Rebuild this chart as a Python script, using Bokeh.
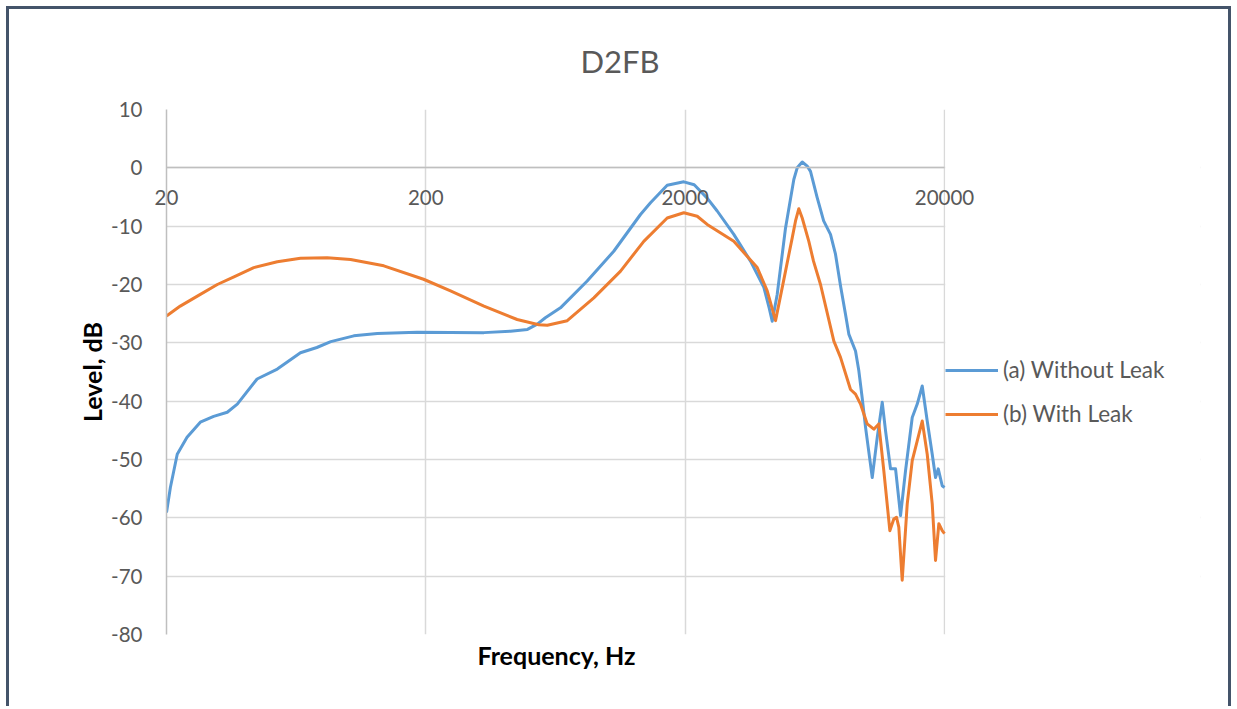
from bokeh.plotting import figure
from bokeh.models import (LogAxis, FixedTicker, Legend, LegendItem, Range1d, Title,
                          BoxAnnotation)
from bokeh.embed import file_html
from bokeh.resources import INLINE

# ---- data ----
freq_a = [20, 20.7, 22, 24, 27, 30.4, 34.3, 37.5, 44.7, 53.5, 65.7, 76, 86, 105.5, 130,
          185, 335, 424, 493, 538, 578, 661, 838, 1061, 1345, 1470, 1705, 1976, 2167,
          2432, 2658, 3080, 3573, 4022, 4216, 4332, 4528, 4876, 5248, 5408, 5654, 5912,
          6086, 6458, 6840, 7268, 7598, 7944, 8304, 8552, 9076, 9348, 9634, 9922, 10530,
          11008, 11508, 11850, 12388, 12950, 13538, 14152, 15018, 15700, 16412, 17156,
          17936, 18468, 18918, 19600, 20000]
level_a = [-59.1, -54.8, -49.1, -46.2, -43.6, -42.6, -41.9, -40.5, -36.2, -34.5, -31.7,
           -30.8, -29.8, -28.8, -28.4, -28.2, -28.25, -28.0, -27.7, -26.8, -25.7, -24.0,
           -19.4, -14.3, -8.0, -6.0, -3.0, -2.4, -2.9, -5.2, -7.4, -11.4, -16.0, -20.5,
           -24.0, -26.3, -21.7, -10.3, -2.0, 0.0, 1.0, 0.3, -0.6, -5.1, -9.1, -11.4, -14.8,
           -20.2, -25.1, -28.5, -31.4, -34.8, -39.5, -44.5, -53.1, -46.2, -40.2, -45.1,
           -51.6, -51.6, -59.6, -51.9, -42.8, -40.5, -37.4, -43.4, -49.1, -53.1, -51.6,
           -54.5, -54.8]

freq_b = [20, 22.6, 26.3, 31.4, 36.4, 43.4, 53.5, 65.7, 83.3, 102.5, 137.7, 196, 249,
          335, 450, 545, 588, 702, 889, 1127, 1385, 1705, 1976, 2226, 2432, 3080, 3792,
          4144, 4462, 4876, 5174, 5328, 5486, 5654, 5996, 6250, 6652, 7488, 7944, 8682,
          9076, 9490, 10070, 10678, 11160, 11668, 12310, 12750, 13062, 13330, 13738,
          14366, 15018, 15700, 16412, 17156, 17936, 18468, 19022, 19600, 20000]
level_b = [-25.4, -23.7, -22.0, -20.0, -18.7, -17.1, -16.1, -15.5, -15.4, -15.7, -16.8,
           -19.1, -21.1, -23.7, -26.0, -26.9, -27.0, -26.2, -22.3, -17.7, -12.6, -8.6,
           -7.7, -8.3, -9.7, -12.6, -17.1, -21.1, -26.2, -17.7, -12.0, -9.1, -7.0, -8.6,
           -12.6, -16.0, -20.0, -29.7, -32.5, -38.0, -38.8, -40.5, -43.9, -44.8, -43.9,
           -51.9, -62.2, -60.2, -59.9, -61.6, -70.7, -57.6, -50.2, -46.8, -43.4, -49.1,
           -57.6, -67.3, -61.0, -62.2, -62.7]

x_ticks = [20, 200, 2000, 20000]
y_ticks = [-80, -70, -60, -50, -40, -30, -20, -10, 0, 10]

title_text = "D2FB"
x_title = "Frequency, Hz"
y_title = "Level, dB"
label_a = "(a) Without Leak"
label_b = "(b) With Leak"

FONT = "Lato"
GREY_TXT = "#595959"
FRAME_C = "#44546A"
GRID_W = 1.5

# layout: the data area (20 Hz .. 20 kHz) is 778 px wide; the frame is widened to the
# right so that the legend (drawn inside the frame) is not clipped.
X_MIN, X_MAX = 20, 20000
DATA_W = 778
FRAME_W = 1034
DECADE_PX = DATA_W / 3
x_end = X_MAX * 10 ** ((FRAME_W - DATA_W) / DECADE_PX)

p = figure(width=1219, height=700, x_axis_type="log",
           x_range=Range1d(X_MIN, x_end), y_range=Range1d(-80, 10),
           output_backend="svg", toolbar_location=None,
           min_border_left=157, min_border_right=1219 - 157 - FRAME_W,
           min_border_top=99, min_border_bottom=75)
p.styles = {"margin-left": "9px", "margin-top": "9px",
            "box-shadow": f"-3px -3px 0 0 {FRAME_C}, 3px -3px 0 0 {FRAME_C}"}
p.outline_line_color = None
p.background_fill_color = "white"
p.border_fill_color = "white"

# title
p.title.text = title_text
p.title.align = "left"
p.title.offset = 414
p.title.standoff = 60
p.title.text_font = FONT
p.title.text_font_size = "31px"
p.title.text_font_style = "normal"
p.title.text_color = GREY_TXT

# grids
p.xgrid.ticker = FixedTicker(ticks=x_ticks)
p.ygrid.ticker = FixedTicker(ticks=y_ticks)
for g in (p.xgrid, p.ygrid):
    g.grid_line_color = "#D9D9D9"
    g.grid_line_width = GRID_W

# keep the horizontal grid lines inside the 20 Hz .. 20 kHz area
p.add_layout(BoxAnnotation(left=X_MAX * 10 ** (GRID_W / 2 / DECADE_PX),
                           fill_color="white", fill_alpha=1.0, line_color=None,
                           level="underlay"))

# main bottom axis: invisible
bx = p.below[0]
bx.ticker = FixedTicker(ticks=x_ticks)
bx.bounds = (X_MIN, X_MAX)
bx.major_label_text_font_size = "1px"
bx.major_label_text_color = None
bx.major_label_standoff = 0
bx.major_tick_line_color = None
bx.minor_tick_line_color = None
bx.major_tick_out = 0
bx.minor_tick_out = 0
bx.axis_line_color = None

# x axis title, centred under the data area
p.add_layout(Title(text=x_title, align="left", offset=311, vertical_align="top",
                   standoff=10, text_font=FONT, text_font_size="25px",
                   text_font_style="bold", text_color="black"), "below")

# y axis
ya = p.left[0]
ya.ticker = FixedTicker(ticks=y_ticks)
ya.major_label_overrides = {t: str(t) for t in y_ticks}
ya.axis_label = y_title
ya.axis_label_text_font = FONT
ya.axis_label_text_font_size = "25px"
ya.axis_label_text_font_style = "bold"
ya.axis_label_text_color = "black"
ya.axis_label_standoff = 1
ya.major_label_text_font = FONT
ya.major_label_text_font_size = "20.5px"
ya.major_label_text_color = GREY_TXT
ya.major_label_standoff = 18
ya.major_tick_line_color = None
ya.minor_tick_line_color = None
ya.axis_line_color = "#BFBFBF"
ya.axis_line_width = 1.5

# horizontal axis line crossing at 0 dB
xa = LogAxis(fixed_location=0, ticker=FixedTicker(ticks=x_ticks), bounds=(X_MIN, X_MAX),
             major_label_text_font_size="1px", major_label_text_color=None,
             major_tick_line_color=None, minor_tick_line_color=None,
             axis_line_color="#BFBFBF", axis_line_width=1.5)
p.add_layout(xa, "below")

# tick labels of the horizontal axis, drawn just under the 0 dB line
xt = LogAxis(ticker=FixedTicker(ticks=x_ticks), bounds=(X_MIN, X_MAX),
             major_label_overrides={t: str(t) for t in x_ticks},
             major_label_text_font=FONT, major_label_text_font_size="20.5px",
             major_label_text_color=GREY_TXT, major_label_standoff=-95,
             major_tick_out=0, major_tick_in=0, minor_tick_out=0, minor_tick_in=0,
             major_tick_line_color=None, minor_tick_line_color=None,
             axis_line_color=None)
p.add_layout(xt, "above")

r_a = p.line(freq_a, level_a, line_color="#5B9BD5", line_width=3, line_join="round")
r_b = p.line(freq_b, level_b, line_color="#ED7D31", line_width=3, line_join="round")

legend = Legend(items=[LegendItem(label=label_a, renderers=[r_a]),
                       LegendItem(label=label_b, renderers=[r_b])],
                location=(DATA_W + 1, 207), orientation="vertical",
                border_line_color=None, background_fill_alpha=0,
                padding=0, margin=0, spacing=17,
                glyph_width=53, glyph_height=20, label_height=20,
                label_standoff=5, label_text_font=FONT,
                label_text_font_size="22.5px", label_text_color=GREY_TXT)
p.add_layout(legend)

open("out.html", "w").write(file_html(p, INLINE))
